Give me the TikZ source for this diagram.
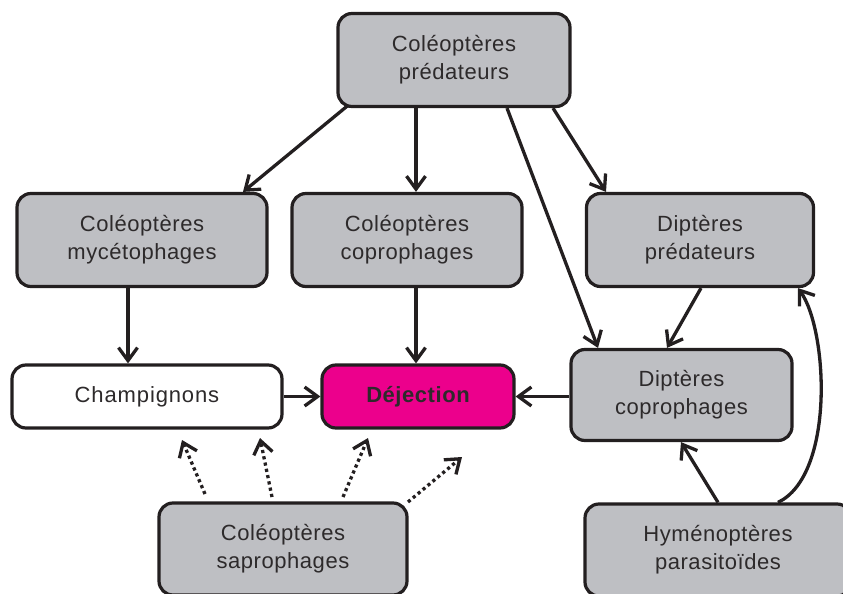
\documentclass[tikz,border=0pt]{standalone}
\usepackage{fontspec}
\setmainfont{Liberation Sans}[LetterSpace=2.5]
\usetikzlibrary{arrows.meta}
\definecolor{boxgray}{RGB}{190,191,195}
\definecolor{boxline}{RGB}{35,31,32}
\definecolor{txt}{RGB}{45,42,43}
\definecolor{mag}{RGB}{236,0,140}
\tikzset{
  box/.style={draw=boxline, line width=3.2pt, rounded corners=14pt, fill=boxgray,
    align=center, font=\fontsize{22}{28}\selectfont, text=txt, inner sep=0pt},
  arr/.style={draw=boxline, line width=3.3pt, -{Straight Barb[length=13pt,width=19pt,line width=3.3pt]}},
  dotarr/.style={arr, dash pattern=on 3.2pt off 3.2pt},
}
\begin{document}
\begin{tikzpicture}[x=1pt,y=-1pt]
\useasboundingbox (0,0) rectangle (843,594);
\begin{scope}
\clip (0,0) rectangle (843,594);
\node[box, minimum width=232pt, minimum height=93pt] (cpred) at (454,60) {Coléoptères\\prédateurs};
\node[box, minimum width=250pt, minimum height=93pt] (cmyc) at (142,240) {Coléoptères\\mycétophages};
\node[box, minimum width=230pt, minimum height=93pt] (ccop) at (407,240) {Coléoptères\\coprophages};
\node[box, minimum width=227pt, minimum height=93pt] (dpred) at (700,240) {Diptères\\prédateurs};
\node[box, fill=white, minimum width=270pt, minimum height=63pt] (champ) at (147,396.5) {\addfontfeatures{LetterSpace=4}Champignons};
\node[box, fill=mag, minimum width=192pt, minimum height=63pt, font=\fontsize{22}{28}\selectfont\bfseries] (dej) at (418,396.5) {Déjection};
\node[box, minimum width=221pt, minimum height=91pt] (dcop) at (681.5,395) {Diptères\\coprophages};
\node[box, minimum width=248pt, minimum height=92pt] (csap) at (283,549) {Coléoptères\\saprophages};
\node[box, minimum width=266pt, minimum height=92pt] (hym) at (718,550) {Hyménoptères\\parasitoïdes};
\end{scope}

\draw[arr] (cpred.south west) ++(12,-3) coordinate (a1) -- (cmyc.north -| 243,0) ;
\draw[arr] (cpred.south -| 416,0) -- (ccop.north -| 416,0);
\draw[arr] (cpred.south -| 507,0) -- (dcop.north -| 598,0);
\draw[arr] (cpred.south -| 553,0) -- (dpred.north -| 606,0);
\draw[arr] (cmyc.south -| 128,0) -- (champ.north -| 128,0);
\draw[arr] (ccop.south -| 416,0) -- (dej.north -| 416,0);
\draw[arr] (dpred.south -| 701,0) -- (dcop.north -| 667,0);
\draw[arr] (champ.east) -- (dej.west);
\draw[arr] (dcop.west |- dej.east) -- (dej.east);
\draw[arr] (hym.north -| 718,0) -- (dcop.south -| 681,0);
\draw[arr] (hym.north -| 778,0) .. controls (835,475) and (828,330) .. (dpred.south -| 798,0);

\coordinate (t1) at (182,440);
\coordinate (t2) at (260,438);
\coordinate (t3) at (368,438);
\coordinate (t4) at (462,457);
\draw[dotarr] (205,494) -- (t1);
\draw[dotarr] (272,497) -- (t2);
\draw[dotarr] (343,497) -- (t3);
\draw[dotarr] (408,502) -- (t4);
\end{tikzpicture}
\end{document}
